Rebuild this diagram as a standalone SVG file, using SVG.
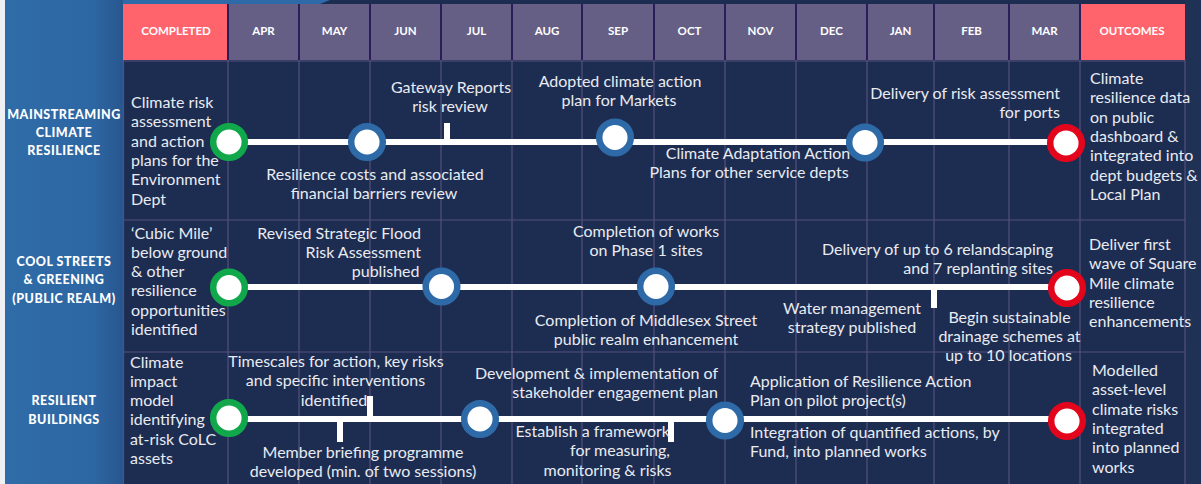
<svg xmlns="http://www.w3.org/2000/svg" width="1201" height="484" viewBox="0 0 1201 484">
<defs>
<linearGradient id="lp" x1="0" y1="0" x2="1" y2="0">
<stop offset="0" stop-color="#2f6ca8"/>
<stop offset="0.75" stop-color="#2d67a3"/>
<stop offset="1" stop-color="#28568f"/>
</linearGradient>
<style>
.hd{font-family:Lato,"Liberation Sans",sans-serif;font-weight:bold;font-size:11.5px;fill:#ffffff;text-anchor:middle}
.rl{font-family:Lato,"Liberation Sans",sans-serif;font-weight:900;font-size:12.5px;fill:#ffffff;text-anchor:middle;letter-spacing:0.5px}
.t{font-family:Lato,"Liberation Sans",sans-serif;font-size:16px;fill:#e9ebf1}
.m{text-anchor:middle}
.e{text-anchor:end}
.grid{stroke:#55507e;stroke-width:1.2}
.sep{stroke:#2a1d5a;stroke-width:2}
.tl{stroke:#ffffff;stroke-width:6;fill:none}
.tk{fill:#ffffff}
.g{fill:#ffffff;stroke:#11a84b;stroke-width:6.5}
.b{fill:#ffffff;stroke:#2e6aa8;stroke-width:6.5}
.r{fill:#ffffff;stroke:#e3051c;stroke-width:6.5}
</style>
</defs>
<rect x="0" y="0" width="1201" height="484" fill="#1d2d52"/>
<rect x="1185" y="0" width="16" height="484" fill="#1f3155"/>
<polygon points="0,0 330,0 320,4 0,4" fill="#2e6aa7"/>
<rect x="0" y="0" width="123" height="484" fill="url(#lp)"/>
<rect x="0" y="0" width="5" height="484" fill="#eef0f4"/>

<g id="header">
<rect x="123" y="4" width="105" height="56" fill="#ff646d"/>
<rect x="228" y="4" width="852" height="56" fill="#655f86"/>
<rect x="1080" y="4" width="105" height="56" fill="#ff646d"/>
<g class="sep">
<line x1="228" y1="4" x2="228" y2="60"/><line x1="299" y1="4" x2="299" y2="60"/><line x1="370" y1="4" x2="370" y2="60"/><line x1="441" y1="4" x2="441" y2="60"/><line x1="512" y1="4" x2="512" y2="60"/><line x1="582" y1="4" x2="582" y2="60"/><line x1="654" y1="4" x2="654" y2="60"/><line x1="725" y1="4" x2="725" y2="60"/><line x1="796" y1="4" x2="796" y2="60"/><line x1="867" y1="4" x2="867" y2="60"/><line x1="934" y1="4" x2="934" y2="60"/><line x1="1009" y1="4" x2="1009" y2="60"/><line x1="1080" y1="4" x2="1080" y2="60"/>
</g>
<text class="hd" x="176" y="35">COMPLETED</text>
<text class="hd" x="263.5" y="35">APR</text>
<text class="hd" x="334.5" y="35">MAY</text>
<text class="hd" x="405.5" y="35">JUN</text>
<text class="hd" x="476.5" y="35">JUL</text>
<text class="hd" x="547" y="35">AUG</text>
<text class="hd" x="618" y="35">SEP</text>
<text class="hd" x="689.5" y="35">OCT</text>
<text class="hd" x="760.5" y="35">NOV</text>
<text class="hd" x="831.5" y="35">DEC</text>
<text class="hd" x="900.5" y="35">JAN</text>
<text class="hd" x="971.5" y="35">FEB</text>
<text class="hd" x="1044.5" y="35">MAR</text>
<text class="hd" x="1132" y="35">OUTCOMES</text>
</g>

<g id="grid" class="grid">
<line x1="123" y1="61" x2="1185" y2="61"/><line x1="123" y1="220" x2="1185" y2="220"/><line x1="123" y1="352" x2="1185" y2="352"/>
<line x1="123.5" y1="60" x2="123.5" y2="484"/><line x1="1185" y1="60" x2="1185" y2="484"/>
<line x1="228" y1="60" x2="228" y2="484"/><line x1="299" y1="60" x2="299" y2="484"/><line x1="370" y1="60" x2="370" y2="484"/><line x1="441" y1="60" x2="441" y2="484"/><line x1="512" y1="60" x2="512" y2="484"/><line x1="582" y1="60" x2="582" y2="484"/><line x1="654" y1="60" x2="654" y2="484"/><line x1="725" y1="60" x2="725" y2="484"/><line x1="796" y1="60" x2="796" y2="484"/><line x1="867" y1="60" x2="867" y2="484"/><line x1="934" y1="60" x2="934" y2="484"/><line x1="1009" y1="60" x2="1009" y2="484"/><line x1="1080" y1="60" x2="1080" y2="484"/>
</g>

<g id="row-labels">
<text class="rl" x="64" y="119">MAINSTREAMING</text>
<text class="rl" x="64" y="137">CLIMATE</text>
<text class="rl" x="64" y="155">RESILIENCE</text>
<text class="rl" x="64" y="265.5">COOL STREETS</text>
<text class="rl" x="64" y="284">&amp; GREENING</text>
<text class="rl" x="64" y="302.5">(PUBLIC REALM)</text>
<text class="rl" x="64" y="404.5">RESILIENT</text>
<text class="rl" x="64" y="424">BUILDINGS</text>
</g>

<g id="connectors">
<line class="tl" x1="229" y1="142" x2="1066" y2="142"/>
<rect class="tk" x="444" y="123" width="6" height="19"/>
<line class="tl" x1="229" y1="287" x2="1067" y2="287"/>
<rect class="tk" x="931" y="287" width="6" height="21"/>
<line class="tl" x1="229" y1="419" x2="1067" y2="419"/>
<rect class="tk" x="367" y="396" width="6" height="23"/>
<rect class="tk" x="337" y="419" width="6" height="23"/>
<rect class="tk" x="668" y="419" width="6" height="23"/>
</g>

<g id="r1-completed"><circle class="g" cx="229" cy="142" r="15.8"/>
<text class="t" x="131"><tspan x="131" y="108">Climate risk</tspan><tspan x="131" y="127.3">assessment</tspan><tspan x="131" y="146.6">and action</tspan><tspan x="131" y="165.9">plans for the</tspan><tspan x="131" y="185.2">Environment</tspan><tspan x="131" y="204.5">Dept</tspan></text></g>
<g id="r1-resilience-costs"><circle class="b" cx="367" cy="142" r="15.8"/>
<text class="t m"><tspan x="375" y="180">Resilience costs and associated</tspan><tspan x="374" y="199.3">financial barriers review</tspan></text></g>
<g id="r1-gateway"><text class="t m"><tspan x="451" y="92.5">Gateway Reports</tspan><tspan x="450" y="111.8">risk review</tspan></text></g>
<g id="r1-markets"><circle class="b" cx="615" cy="137.5" r="15.8"/>
<text class="t m"><tspan x="620" y="87">Adopted climate action</tspan><tspan x="619" y="106.3">plan for Markets</tspan></text></g>
<g id="r1-adaptation"><circle class="b" cx="865" cy="142.5" r="15.8"/>
<text class="t m"><tspan x="758" y="159">Climate Adaptation Action</tspan><tspan x="749" y="178.3">Plans for other service depts</tspan></text></g>
<g id="r1-ports"><text class="t e"><tspan x="1060" y="98.5">Delivery of risk assessment</tspan><tspan x="1060" y="118">for ports</tspan></text></g>
<g id="r1-outcome"><circle class="r" cx="1066" cy="143" r="15.8"/>
<text class="t"><tspan x="1090" y="84">Climate</tspan><tspan x="1090" y="103.3">resilience data</tspan><tspan x="1090" y="122.6">on public</tspan><tspan x="1090" y="141.9">dashboard &amp;</tspan><tspan x="1090" y="161.2">integrated into</tspan><tspan x="1090" y="180.5">dept budgets &amp;</tspan><tspan x="1090" y="199.8">Local Plan</tspan></text></g>

<g id="r2-completed"><circle class="g" cx="229" cy="287.5" r="15.8"/>
<text class="t"><tspan x="131" y="238.5">‘Cubic Mile’</tspan><tspan x="131" y="257.8">below ground</tspan><tspan x="131" y="277.1">&amp; other</tspan><tspan x="131" y="296.4">resilience</tspan><tspan x="131" y="315.7">opportunities</tspan><tspan x="131" y="335">identified</tspan></text></g>
<g id="r2-flood"><circle class="b" cx="441.5" cy="286.5" r="15.8"/>
<text class="t e"><tspan x="421" y="238.5">Revised Strategic Flood</tspan><tspan x="421" y="257.8">Risk Assessment</tspan><tspan x="419.5" y="277.1">published</tspan></text></g>
<g id="r2-phase1"><circle class="b" cx="656" cy="286.5" r="15.8"/>
<text class="t m"><tspan x="646" y="236.5">Completion of works</tspan><tspan x="646" y="255.8">on Phase 1 sites</tspan></text>
<text class="t m"><tspan x="646" y="325.5">Completion of Middlesex Street</tspan><tspan x="646" y="344.8">public realm enhancement</tspan></text></g>
<g id="r2-water"><text class="t m"><tspan x="852" y="314">Water management</tspan><tspan x="852" y="333.3">strategy published</tspan></text></g>
<g id="r2-relandscaping"><text class="t e"><tspan x="1053" y="255">Delivery of up to 6 relandscaping</tspan><tspan x="1053" y="274.3">and 7 replanting sites</tspan></text></g>
<g id="r2-drainage"><text class="t m"><tspan x="1009.5" y="322.5">Begin sustainable</tspan><tspan x="1009.5" y="341.8">drainage schemes at</tspan><tspan x="1008.5" y="361.1">up to 10 locations</tspan></text></g>
<g id="r2-outcome"><circle class="r" cx="1067" cy="288" r="15.8"/>
<text class="t"><tspan x="1089" y="250">Deliver first</tspan><tspan x="1089" y="269.3">wave of Square</tspan><tspan x="1089" y="288.6">Mile climate</tspan><tspan x="1089" y="307.9">resilience</tspan><tspan x="1089" y="327.2">enhancements</tspan></text></g>

<g id="r3-completed"><circle class="g" cx="229" cy="418" r="15.8"/>
<text class="t"><tspan x="130" y="367.5">Climate</tspan><tspan x="130" y="386.8">impact</tspan><tspan x="130" y="406.1">model</tspan><tspan x="130" y="425.4">identifying</tspan><tspan x="130" y="444.7">at-risk CoLC</tspan><tspan x="130" y="464">assets</tspan></text></g>
<g id="r3-timescales"><text class="t m"><tspan x="336" y="367">Timescales for action, key risks</tspan><tspan x="335.5" y="386.3">and specific interventions</tspan><tspan x="334" y="405.6">identified</tspan></text></g>
<g id="r3-briefing"><text class="t m"><tspan x="363" y="458">Member briefing programme</tspan><tspan x="363" y="477.3">developed (min. of two sessions)</tspan></text></g>
<g id="r3-stakeholder"><circle class="b" cx="480" cy="419" r="15.8"/>
<text class="t e"><tspan x="718" y="379">Development &amp; implementation of</tspan><tspan x="718" y="398.3">stakeholder engagement plan</tspan></text></g>
<g id="r3-framework"><text class="t e"><tspan x="670" y="437">Establish a framework</tspan><tspan x="670" y="456.3">for measuring,</tspan><tspan x="671.5" y="475.6">monitoring &amp; risks</tspan></text></g>
<g id="r3-pilot"><circle class="b" cx="725" cy="420.5" r="15.8"/>
<text class="t"><tspan x="750" y="386.5">Application of Resilience Action</tspan><tspan x="750" y="405.8">Plan on pilot project(s)</tspan></text>
<text class="t"><tspan x="750" y="438">Integration of quantified actions, by</tspan><tspan x="750" y="457.3">Fund, into planned works</tspan></text></g>
<g id="r3-outcome"><circle class="r" cx="1067" cy="421" r="15.8"/>
<text class="t"><tspan x="1092" y="376">Modelled</tspan><tspan x="1092" y="395.3">asset-level</tspan><tspan x="1092" y="414.6">climate risks</tspan><tspan x="1092" y="433.9">integrated</tspan><tspan x="1092" y="453.2">into planned</tspan><tspan x="1092" y="472.5">works</tspan></text></g>
</svg>
